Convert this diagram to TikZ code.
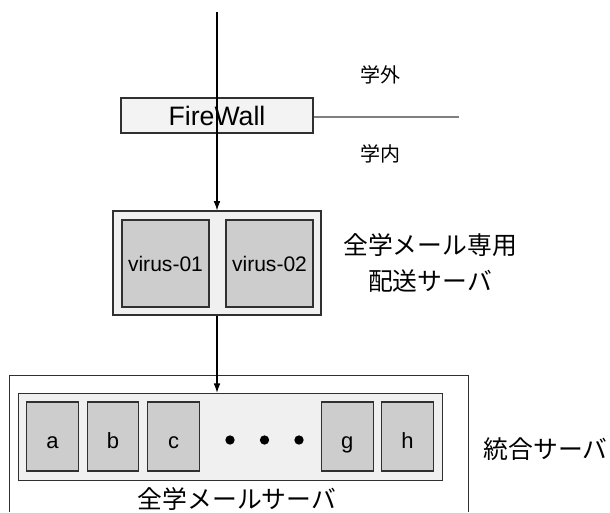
\documentclass[tikz,border=0pt]{standalone}
\usepackage{fontspec}
\setmainfont{Liberation Sans}
\newfontfamily\jp{Noto Sans CJK JP}
\usetikzlibrary{arrows.meta}
\definecolor{boxgray}{HTML}{CDCDCD}
\definecolor{contgray}{HTML}{F0F0F0}
\definecolor{edge}{HTML}{303030}
\begin{document}
\begin{tikzpicture}[x=0.75pt,y=-0.75pt,
  cont/.style={draw=edge,fill=contgray,line width=0.8pt,inner sep=0pt},
  srv/.style={draw=edge,fill=boxgray,line width=0.8pt,inner sep=0pt,font=\fontsize{15.8}{18}\selectfont},
  letter/.style={srv,minimum width=38.7pt,minimum height=51.75pt,font=\fontsize{16.5}{18}\selectfont,text height=18.5pt,text depth=0pt},
  jplabel/.style={font=\jp\fontsize{18.6}{22}\selectfont,inner sep=0pt},
  jpsmall/.style={font=\jp\fontsize{15}{18}\selectfont,inner sep=0pt},
  conn/.style={draw=black,line width=0.8pt,-{Latex[length=7pt,width=5pt]}},
  dot/.style={circle,fill=black,inner sep=0pt,minimum size=7pt}]
\useasboundingbox (0,0) rectangle (610,512);
\fill[white] (0,0) rectangle (610,512);
% outer integrated server frame (bottom cut off)
\draw[edge,line width=0.8pt] (9.3,512) -- (9.3,375.7) -- (468.3,375.7) -- (468.3,512);
% firewall
\node[cont,fill=contgray!80!white,minimum width=144pt,minimum height=26.25pt,font=\fontsize{20}{24}\selectfont] (fw) at (217,115.5) {FireWall};
\coordinate (fwend) at (459,117);
\draw[gray,line width=0.8pt] (fw.east |- fwend) -- (fwend);
\node[jpsmall] (out) at (380,75) {学外};
\node[jpsmall] (in) at (380,154) {学内};
% delivery servers
\node[cont,minimum width=156pt,minimum height=78pt] (vcont) at (217,263) {};
\node[srv,minimum width=65.25pt,minimum height=65.25pt] (v1) at (165.5,263.5) {virus-01};
\node[srv,minimum width=65.25pt,minimum height=65.25pt] (v2) at (269.5,263.5) {virus-02};
\node[jplabel] (dl1) at (430,245) {全学メール専用};
\node[jplabel] (dl2) at (430,281) {配送サーバ};
% mail servers
\node[cont,minimum width=318pt,minimum height=65.5pt] (inner) at (230.3,437) {};
\node[letter] (a) at (52.5,436.5) {a};
\node[letter] (b) at (113,436.5) {b};
\node[letter] (c) at (173.7,436.5) {c};
\node[letter] (g) at (347.3,436.5) {g};
\node[letter] (h) at (407.5,436.5) {h};
\node[dot] (d1) at (230,440) {};
\node[dot] (d2) at (264.5,440) {};
\node[dot] (d3) at (299,440) {};
\node[jplabel] (ml) at (237,499) {全学メールサーバ};
\node[jplabel] (il) at (545.5,449) {統合サーバ};
% connectors
\coordinate (top) at (217,12);
\draw[conn] (top) -- (vcont.north);
\draw[conn] (vcont.south) -- (vcont.south |- inner.north);
\end{tikzpicture}
\end{document}
